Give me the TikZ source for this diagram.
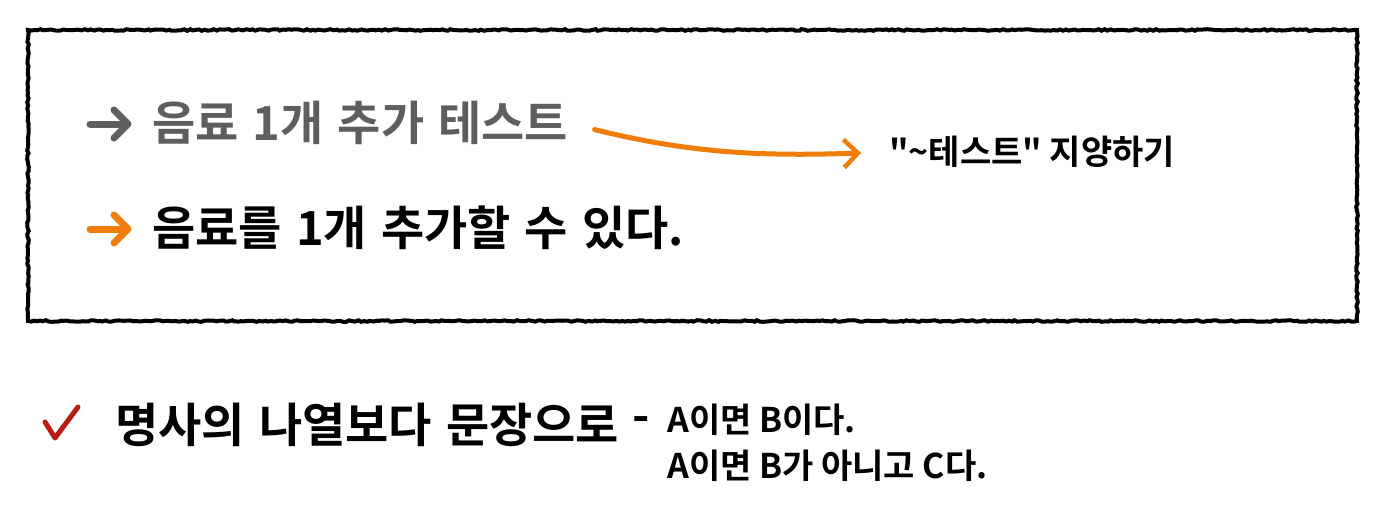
\documentclass[tikz,border=0pt]{standalone}
\usepackage{fontspec}
\setmainfont{Noto Sans CJK KR}[BoldFont={* Bold}]
\newfontfamily\straightquotes{Noto Sans CJK KR}[BoldFont={* Bold}, Ligatures=TeXOff]
\usepackage{tikz}
\usetikzlibrary{arrows.meta,positioning,decorations.pathmorphing}
\definecolor{chalkorange}{HTML}{F07C0A}
\definecolor{chalkgray}{HTML}{5E5E5E}
\definecolor{chalkred}{HTML}{B81E10}
\newcommand\widewords{\spaceskip=0.3em\relax}
\tikzset{
  bigtext/.style={inner sep=0pt, anchor=west, font=\fontsize{47}{52}\selectfont\bfseries},
  smalltext/.style={inner sep=0pt, anchor=west, font=\fontsize{34}{38}\selectfont\bfseries},
  bulletarrow/.style={line width=7, line cap=round, line join=round},
  chalkbox/.style={line width=4, decorate, decoration={random steps, segment length=3, amplitude=0.8}},
}
\begin{document}
\begin{tikzpicture}[x=1pt,y=-1pt]
  \useasboundingbox (0,0) rectangle (1388,520);
  % frame
  \draw [chalkbox] (28,30) rectangle (1357,321);
  % bullets
  \draw [bulletarrow, chalkgray] (90,124) -- (127,124);
  \draw [bulletarrow, chalkgray] (114,110) -- (128,124) -- (114,138);
  \draw [bulletarrow, chalkorange] (90,229) -- (127,229);
  \draw [bulletarrow, chalkorange] (114,215) -- (128,229) -- (114,243);
  % lines in frame
  \node [bigtext, text=chalkgray] (nametest) at (152,123) {\widewords 음료 1개 추가 테스트};
  \node [bigtext] (namesentence) at (152,228) {\widewords 음료를 1개 추가할 수 있다.};
  \node [smalltext] (avoidtest) at (889,152) {\straightquotes "\textasciitilde 테스트" 지양하기};
  \draw [chalkorange, line width=5, line cap=round, shorten <=27, shorten >=28,
         -{Straight Barb[length=14, width=28, line width=4.5]}]
        (nametest.east) to [out=-14, in=182] (avoidtest.west);
  % below the frame
  \draw [chalkred, line width=5, line cap=round, line join=round]
        (45,422) -- (55,438) -- (78,407);
  \node [bigtext] (sentencetip) at (115,425) {\widewords 명사의 나열보다 문장으로};
  \node [bigtext] (dashmark) at (632,425) {-};
  \node [smalltext] (exampleone) at (667,420) {A이면 B이다.};
  \node [smalltext] (exampletwo) at (667,466) {A이면 B가 아니고 C다.};
\end{tikzpicture}
\end{document}
